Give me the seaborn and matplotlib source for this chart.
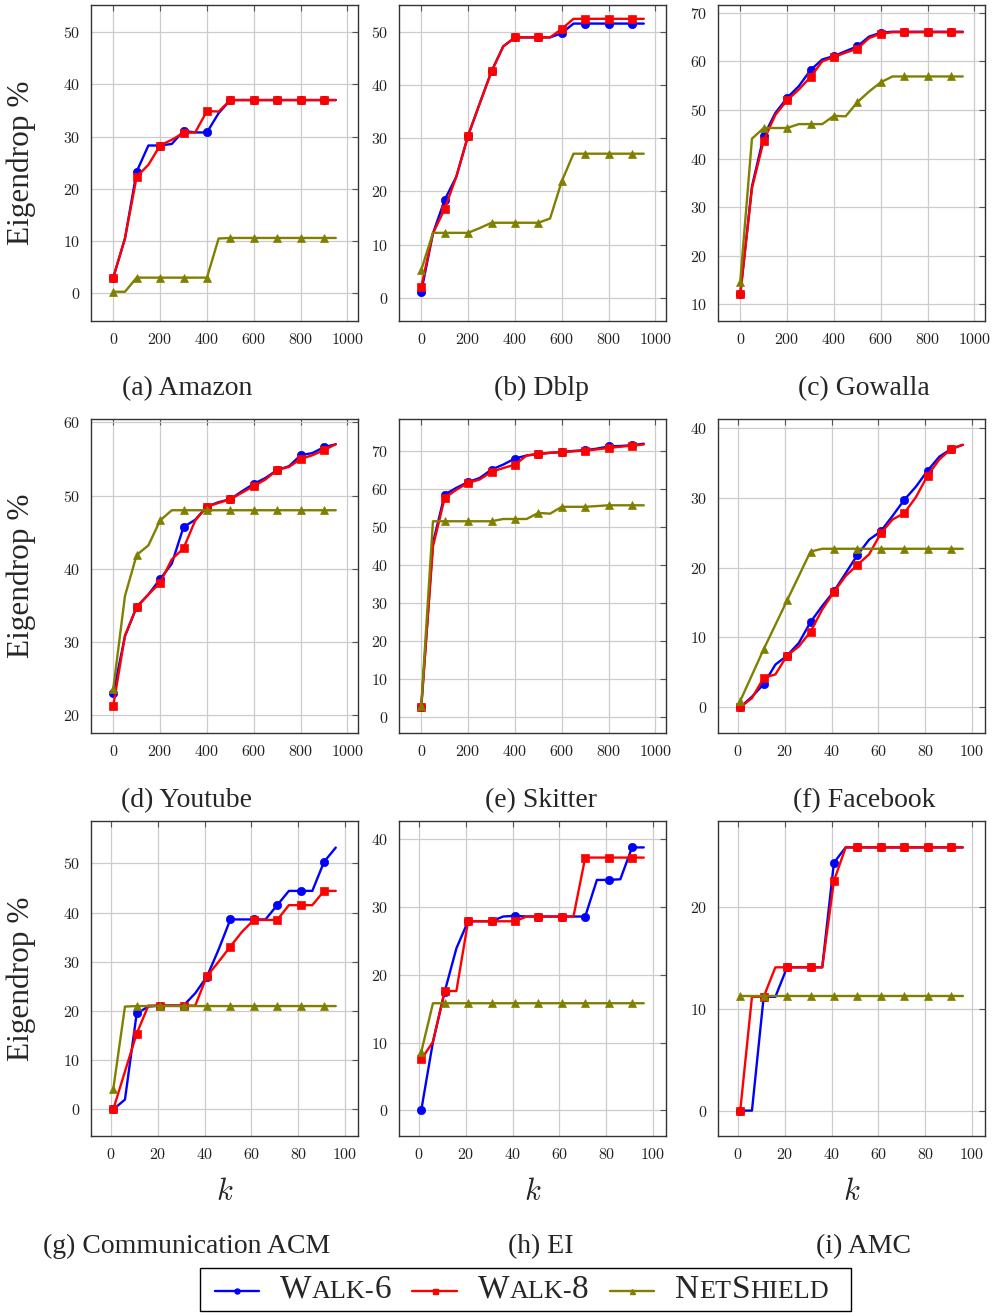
import matplotlib
matplotlib.use("Agg")
import matplotlib.pyplot as plt
import seaborn as sns
from matplotlib.lines import Line2D
from matplotlib.offsetbox import AnchoredOffsetbox, HPacker, TextArea, DrawingArea

# x values (k)
k_big = [0, 50, 100, 150, 200, 250, 300, 350, 400, 450,
         500, 550, 600, 650, 700, 750, 800, 850, 900, 950]
k_small = [1, 6, 11, 16, 21, 26, 31, 36, 41, 46,
           51, 56, 61, 66, 71, 76, 81, 86, 91, 96]

# (a) Amazon
amazon_w6 = [3.0, 10.5, 23.3, 28.3, 28.3, 28.6, 31.1, 30.8, 30.8, 34.5,
             37.0, 37.0, 37.0, 37.0, 37.0, 37.0, 37.0, 37.0, 37.0, 37.0]
amazon_w8 = [3.0, 10.5, 22.3, 24.6, 28.3, 29.4, 30.7, 30.8, 34.9, 34.8,
             37.0, 37.0, 37.0, 37.0, 37.0, 37.0, 37.0, 37.0, 37.0, 37.0]
amazon_ns = [0.3, 0.3, 3.0, 3.0, 3.0, 3.0, 3.0, 3.0, 3.0, 10.5,
             10.6, 10.6, 10.6, 10.6, 10.6, 10.6, 10.6, 10.6, 10.6, 10.6]

# (b) Dblp
dblp_w6 = [1.1, 12.1, 18.4, 22.8, 30.5, 36.6, 42.6, 47.3, 49.0, 49.0,
           49.0, 49.0, 49.8, 51.6, 51.6, 51.6, 51.6, 51.6, 51.6, 51.6]
dblp_w8 = [2.0, 12.1, 16.7, 22.8, 30.5, 36.6, 42.6, 47.3, 49.0, 49.0,
           49.0, 49.0, 50.6, 52.5, 52.5, 52.5, 52.5, 52.5, 52.5, 52.5]
dblp_ns = [5.2, 12.2, 12.2, 12.2, 12.2, 13.1, 14.1, 14.1, 14.1, 14.1,
           14.1, 14.9, 21.9, 27.1, 27.1, 27.1, 27.1, 27.1, 27.1, 27.1]

# (c) Gowalla
gowalla_w6 = [12.1, 34.3, 44.6, 49.4, 52.5, 54.9, 58.2, 60.4, 61.1, 62.1,
              63.1, 65.1, 65.9, 66.1, 66.1, 66.1, 66.1, 66.1, 66.1, 66.1]
gowalla_w8 = [12.1, 33.9, 43.7, 49.0, 52.0, 54.2, 56.8, 60.0, 60.9, 61.8,
              62.6, 64.8, 65.7, 66.0, 66.0, 66.0, 66.0, 66.0, 66.0, 66.0]
gowalla_ns = [14.7, 44.1, 46.3, 46.3, 46.3, 47.1, 47.1, 47.1, 48.8, 48.7,
              51.6, 53.8, 55.7, 56.9, 56.9, 56.9, 56.9, 56.9, 56.9, 56.9]

# (d) Youtube
youtube_w6 = [23.0, 30.8, 34.8, 36.5, 38.6, 40.7, 45.7, 46.7, 48.5, 49.1,
              49.5, 50.6, 51.6, 52.4, 53.5, 54.0, 55.5, 55.8, 56.6, 57.0]
youtube_w8 = [21.3, 30.9, 34.8, 36.5, 38.1, 41.3, 42.8, 46.6, 48.5, 49.0,
              49.5, 50.4, 51.3, 52.2, 53.5, 53.9, 55.0, 55.5, 56.2, 57.0]
youtube_ns = [23.6, 36.3, 41.9, 43.2, 46.6, 48.0, 48.0, 48.0, 48.0, 48.0,
              48.0, 48.0, 48.0, 48.0, 48.0, 48.0, 48.0, 48.0, 48.0, 48.0]

# (e) Skitter
skitter_w6 = [2.5, 45.7, 58.4, 60.2, 61.7, 62.8, 65.0, 66.3, 67.9, 68.7,
              69.1, 69.4, 69.6, 69.9, 70.1, 70.5, 71.1, 71.2, 71.4, 71.8]
skitter_w8 = [2.5, 44.8, 57.5, 59.7, 61.5, 62.4, 64.4, 65.4, 66.3, 68.7,
              69.1, 69.4, 69.6, 69.8, 70.0, 70.3, 70.7, 71.0, 71.3, 71.6]
skitter_ns = [2.9, 51.4, 51.4, 51.4, 51.4, 51.4, 51.4, 52.0, 52.0, 52.0,
              53.6, 53.4, 55.2, 55.2, 55.2, 55.4, 55.6, 55.6, 55.6, 55.6]

# (f) Facebook
facebook_w6 = [0.0, 1.5, 3.3, 6.1, 7.4, 9.2, 12.2, 14.5, 16.6, 19.2,
               21.8, 24.0, 25.2, 27.4, 29.7, 31.6, 33.9, 35.9, 37.0, 37.6]
facebook_w8 = [0.0, 1.3, 4.2, 4.7, 7.4, 8.7, 10.8, 14.0, 16.5, 18.8,
               20.4, 21.9, 24.9, 26.9, 27.8, 30.1, 33.2, 35.5, 37.0, 37.6]
facebook_ns = [0.9, 4.6, 8.3, 11.8, 15.3, 18.8, 22.3, 22.7, 22.7, 22.7,
               22.7, 22.7, 22.7, 22.7, 22.7, 22.7, 22.7, 22.7, 22.7, 22.7]

# (g) Communication ACM
acm_w6 = [0.0, 2.0, 19.5, 20.9, 21.1, 21.1, 21.1, 23.6, 27.0, 32.5,
          38.6, 38.6, 38.6, 38.6, 41.5, 44.4, 44.4, 44.4, 50.3, 53.2]
acm_w8 = [0.0, 7.7, 15.4, 21.1, 21.1, 21.1, 21.1, 21.1, 27.1, 30.0,
          33.1, 36.1, 38.5, 38.5, 38.5, 41.5, 41.5, 41.5, 44.4, 44.4]
acm_ns = [4.1, 20.9, 21.0, 21.0, 21.0, 21.0, 21.0, 21.0, 21.0, 21.0,
          21.0, 21.0, 21.0, 21.0, 21.0, 21.0, 21.0, 21.0, 21.0, 21.0]

# (h) EI
ei_w6 = [0.0, 10.1, 17.5, 23.9, 27.9, 27.9, 27.9, 28.6, 28.7, 28.6,
         28.6, 28.6, 28.6, 28.6, 28.6, 34.0, 34.0, 34.1, 38.8, 38.8]
ei_w8 = [7.5, 10.1, 17.6, 17.6, 27.9, 27.9, 27.9, 27.9, 27.9, 28.6,
         28.6, 28.6, 28.6, 28.6, 37.3, 37.3, 37.3, 37.3, 37.3, 37.3]
ei_ns = [8.6, 15.8, 15.8, 15.8, 15.8, 15.8, 15.8, 15.8, 15.8, 15.8,
         15.8, 15.8, 15.8, 15.8, 15.8, 15.8, 15.8, 15.8, 15.8, 15.8]

# (i) AMC
amc_w6 = [0.0, 0.0, 11.2, 11.2, 14.1, 14.1, 14.1, 14.1, 24.4, 25.9,
          25.9, 25.9, 25.9, 25.9, 25.9, 25.9, 25.9, 25.9, 25.9, 25.9]
amc_w8 = [0.0, 11.2, 11.2, 14.1, 14.1, 14.1, 14.1, 14.1, 22.6, 25.9,
          25.9, 25.9, 25.9, 25.9, 25.9, 25.9, 25.9, 25.9, 25.9, 25.9]
amc_ns = [11.25] * 20

captions = ["(a) Amazon", "(b) Dblp", "(c) Gowalla",
            "(d) Youtube", "(e) Skitter", "(f) Facebook",
            "(g) Communication ACM", "(h) EI", "(i) AMC"]

panels = [
    (k_big, amazon_w6, amazon_w8, amazon_ns, (-5.3, 55.2), [0, 10, 20, 30, 40, 50]),
    (k_big, dblp_w6, dblp_w8, dblp_ns, (-4.4, 55.1), [0, 10, 20, 30, 40, 50]),
    (k_big, gowalla_w6, gowalla_w8, gowalla_ns, (6.6, 71.6), [10, 20, 30, 40, 50, 60, 70]),
    (k_big, youtube_w6, youtube_w8, youtube_ns, (17.6, 60.45), [20, 30, 40, 50, 60]),
    (k_big, skitter_w6, skitter_w8, skitter_ns, (-4.3, 78.3), [0, 10, 20, 30, 40, 50, 60, 70]),
    (k_small, facebook_w6, facebook_w8, facebook_ns, (-3.7, 41.3), [0, 10, 20, 30, 40]),
    (k_small, acm_w6, acm_w8, acm_ns, (-5.4, 58.6), [0, 10, 20, 30, 40, 50]),
    (k_small, ei_w6, ei_w8, ei_ns, (-3.8, 42.7), [0, 10, 20, 30, 40]),
    (k_small, amc_w6, amc_w8, amc_ns, (-2.5, 28.5), [0, 10, 20]),
]

BLUE, RED, OLIVE = "#0000ff", "#ff0000", "#808000"

sns.set_style("white")
plt.rcParams["font.family"] = ["Liberation Serif", "DejaVu Serif"]
plt.rcParams["mathtext.fontset"] = "cm"
plt.rcParams["axes.formatter.use_mathtext"] = True

W, H = 995, 1313
fig = plt.figure(figsize=(W / 100, H / 100), dpi=100)

col_left = [91, 399, 718]
ax_w = 267
row_top = [5, 419, 821]
row_bot = [321, 733, 1136]
cap_x = [187, 541, 864]
cap_base = [395, 807, 1253]

for i, (k, w6, w8, ns, ylim, yticks) in enumerate(panels):
    r, c = divmod(i, 3)
    ax = fig.add_axes([col_left[c] / W, 1 - row_bot[r] / H,
                       ax_w / W, (row_bot[r] - row_top[r]) / H])
    for vals, color, mk, ms in [(w6, BLUE, "o", 6.0), (w8, RED, "s", 6.3), (ns, OLIVE, "^", 6.0)]:
        sns.lineplot(x=k, y=vals, ax=ax, color=color, marker=mk, markersize=ms,
                     markevery=2, linewidth=1.7, markeredgecolor=color,
                     markeredgewidth=0.5, legend=False)
    if k is k_big:
        ax.set_xlim(-95, 1045)
        ax.set_xticks([0, 200, 400, 600, 800, 1000])
    else:
        ax.set_xlim(-8.5, 105.5)
        ax.set_xticks([0, 20, 40, 60, 80, 100])
    ax.set_ylim(*ylim)
    ax.set_yticks(yticks)
    ax.grid(True, color="#cccccc", linewidth=0.9)
    ax.set_axisbelow(True)
    for sp in ax.spines.values():
        sp.set_color("#333333")
        sp.set_linewidth(1.0)
    ax.tick_params(direction="in", top=True, right=True, length=4, width=0.8,
                   color="#555555", labelsize=11.5, labelfontfamily="cmr10",
                   labelcolor="#222222", pad=8)
    ax.set_xlabel("")
    ax.set_ylabel("")
    if c == 0:
        ax.set_ylabel("Eigendrop %", fontsize=22.5)
        ax.yaxis.set_label_coords((21.5 - col_left[0]) / ax_w, 0.5)
        ax.yaxis.label.set_va("center")
    if r == 2:
        ax.set_xlabel("$k$", fontsize=22)
        ax.xaxis.set_label_coords(0.5, -(1192 - row_bot[2]) / (row_bot[2] - row_top[2]))
        ax.xaxis.label.set_va("center")
    fig.text(cap_x[c] / W, 1 - cap_base[r] / H, captions[i], fontsize=20,
             ha="center", va="baseline")


# legend with small caps labels
def label_box(pieces):
    boxes = [TextArea(s, textprops=dict(fontsize=sz, family="Liberation Serif"))
             for s, sz in pieces]
    return HPacker(children=boxes, align="baseline", pad=0, sep=0)


def handle_box(color, mk):
    da = DrawingArea(32, 29, 0, 0)
    da.add_artist(Line2D([0, 32], [13.5, 13.5], color=color, linewidth=1.7))
    da.add_artist(Line2D([16], [13.5], color=color, marker=mk, markersize=3.6,
                         markeredgecolor=color))
    return da


BIG, SMALL = 24, 18.8
entries = [
    (BLUE, "o", [("W", BIG), ("ALK-", SMALL), ("6", BIG)]),
    (RED, "s", [("W", BIG), ("ALK-", SMALL), ("8", BIG)]),
    (OLIVE, "^", [("N", BIG), ("ET", SMALL), ("S", BIG), ("HIELD", SMALL)]),
]
items = []
for color, mk, pieces in entries:
    items.append(HPacker(children=[handle_box(color, mk), label_box(pieces)],
                         align="center", pad=0, sep=15))
inner = HPacker(children=items, align="center", pad=0, sep=15.5)
row = HPacker(children=[DrawingArea(9.5, 1, 0, 0), inner, DrawingArea(15, 1, 0, 0)],
              align="center", pad=0, sep=0)
leg = AnchoredOffsetbox(loc="center", child=row, pad=0.1, borderpad=0,
                        frameon=True, bbox_to_anchor=(525.5 / W, 1 - 1289.5 / H),
                        bbox_transform=fig.transFigure)
leg.patch.set_boxstyle("square", pad=0)
leg.patch.set_edgecolor("black")
leg.patch.set_linewidth(1.0)
fig.add_artist(leg)

fig.savefig("out.png", dpi=100)
